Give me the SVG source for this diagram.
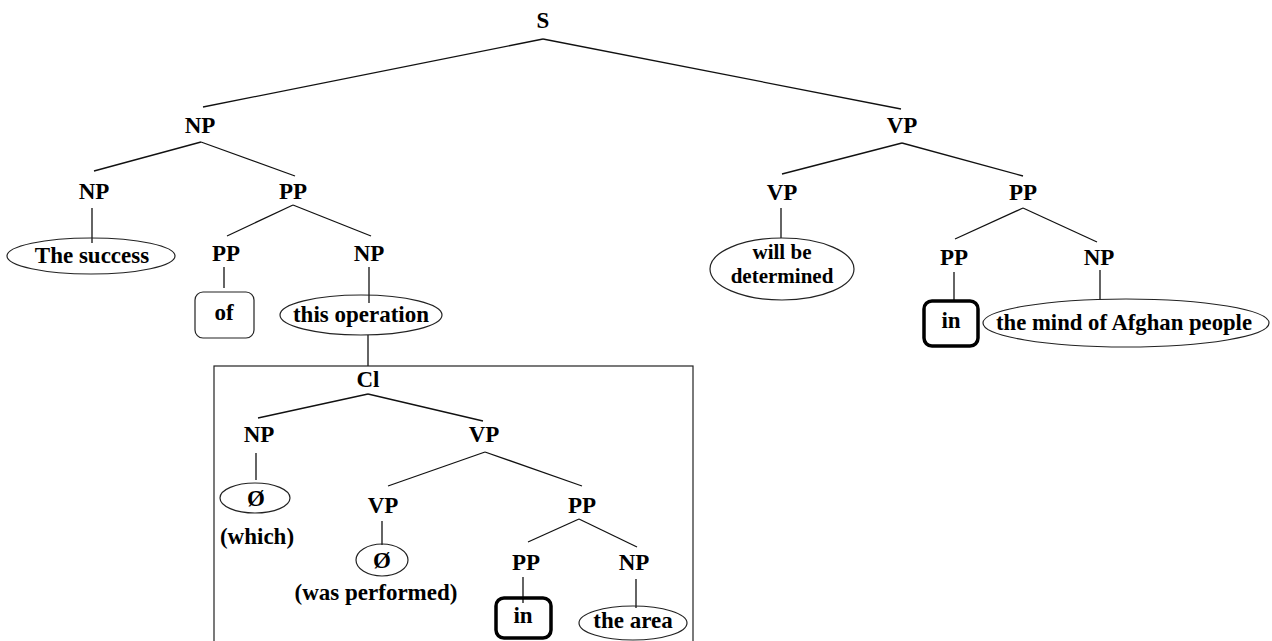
<svg xmlns="http://www.w3.org/2000/svg" width="1272" height="641" viewBox="0 0 1272 641">
<style>
text{font-family:"Liberation Serif","Times New Roman",serif;font-weight:bold;font-size:23px;fill:#000;text-anchor:middle}
.e{fill:none;stroke:#222;stroke-width:1.2}
.r{fill:none;stroke:#222;stroke-width:1.2}
.rt{fill:none;stroke:#000;stroke-width:3.5}
.sm{font-size:21px}
#connectors line{stroke:#111;stroke-width:1.3}
</style>
<rect width="1272" height="641" fill="#fff"/>
<g id="connectors">
<line x1="543" y1="39" x2="203" y2="107"/>
<line x1="543" y1="39" x2="901" y2="109"/>
<line x1="201" y1="142" x2="94" y2="171"/>
<line x1="201" y1="142" x2="295" y2="176"/>
<line x1="92" y1="208" x2="92" y2="243"/>
<line x1="293" y1="205" x2="227" y2="236"/>
<line x1="293" y1="205" x2="371" y2="236"/>
<line x1="224" y1="267" x2="224" y2="288"/>
<line x1="369" y1="267" x2="369" y2="303"/>
<line x1="368" y1="335" x2="368" y2="366"/>
<line x1="368" y1="394" x2="258" y2="418"/>
<line x1="368" y1="394" x2="483" y2="421"/>
<line x1="256" y1="453" x2="256" y2="480"/>
<line x1="485" y1="452" x2="388" y2="486"/>
<line x1="485" y1="452" x2="582" y2="486"/>
<line x1="382" y1="521" x2="382" y2="545"/>
<line x1="579" y1="519" x2="528" y2="542"/>
<line x1="579" y1="519" x2="637" y2="547"/>
<line x1="523" y1="577" x2="523" y2="603"/>
<line x1="636" y1="579" x2="636" y2="608"/>
<line x1="902" y1="143" x2="782" y2="174"/>
<line x1="902" y1="143" x2="1023" y2="176"/>
<line x1="781" y1="208" x2="781" y2="238"/>
<line x1="1023" y1="208" x2="955" y2="239"/>
<line x1="1023" y1="208" x2="1097" y2="242"/>
<line x1="954" y1="272" x2="954" y2="300"/>
<line x1="1100" y1="270" x2="1100" y2="300"/>
</g>
<g id="box-cl"><rect x="214" y="366" width="479" height="290" fill="none" stroke="#222" stroke-width="1.2"/></g>
<g id="n-S"><text x="543" y="28">S</text></g>
<g id="n-NP1"><text x="200" y="133">NP</text></g>
<g id="n-VP1"><text x="902" y="133">VP</text></g>
<g id="n-NP2"><text x="94" y="199">NP</text></g>
<g id="n-PP1"><text x="293" y="199">PP</text></g>
<g id="n-success"><ellipse class="e" cx="91" cy="256" rx="84" ry="18"/><text x="92" y="263">The success</text></g>
<g id="n-PP2"><text x="226" y="261">PP</text></g>
<g id="n-NP3"><text x="369" y="261">NP</text></g>
<g id="n-of"><rect class="r" x="195" y="292" width="59" height="46" rx="8"/><text x="224" y="320">of</text></g>
<g id="n-op"><ellipse class="e" cx="361" cy="315" rx="81" ry="20"/><text x="361" y="322">this operation</text></g>
<g id="n-Cl"><text x="368" y="387">Cl</text></g>
<g id="n-NP4"><text x="259" y="442">NP</text></g>
<g id="n-VP2"><text x="484" y="442">VP</text></g>
<g id="n-which"><ellipse class="e" cx="255" cy="498" rx="35" ry="15"/><text x="256" y="506">Ø</text><text x="257" y="544">(which)</text></g>
<g id="n-VP3"><text x="383" y="513">VP</text></g>
<g id="n-PP3"><text x="582" y="513">PP</text></g>
<g id="n-perf"><ellipse class="e" cx="382" cy="560" rx="26" ry="16"/><text x="382" y="568">Ø</text><text x="376" y="600">(was performed)</text></g>
<g id="n-PP4"><text x="526" y="570">PP</text></g>
<g id="n-NP5"><text x="634" y="570">NP</text></g>
<g id="n-in1"><rect class="rt" x="496" y="598" width="55" height="40" rx="8"/><text x="523" y="623">in</text></g>
<g id="n-area"><ellipse class="e" cx="633" cy="623" rx="54" ry="17"/><text x="633" y="628">the area</text></g>
<g id="n-VP4"><text x="782" y="200">VP</text></g>
<g id="n-PP5"><text x="1023" y="200">PP</text></g>
<g id="n-det"><ellipse class="e" cx="782" cy="269" rx="72" ry="31"/><text class="sm" x="782" y="259">will be</text><text class="sm" x="782" y="283">determined</text></g>
<g id="n-PP6"><text x="954" y="265">PP</text></g>
<g id="n-NP6"><text x="1099" y="265">NP</text></g>
<g id="n-in2"><rect class="rt" x="924" y="301" width="54" height="45" rx="8"/><text x="951" y="328">in</text></g>
<g id="n-mind"><ellipse class="e" cx="1126" cy="323" rx="143" ry="24"/><text x="1124" y="330" textLength="256" lengthAdjust="spacingAndGlyphs">the mind of Afghan people</text></g>
</svg>
